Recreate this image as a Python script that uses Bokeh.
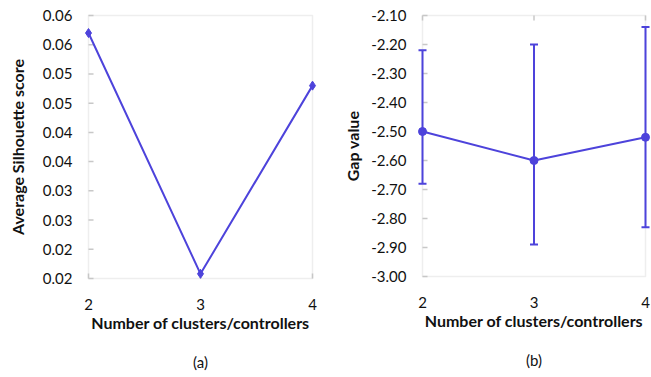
import math
from bokeh.plotting import figure
from bokeh.models import FixedTicker, LinearAxis, Range1d, Whisker, ColumnDataSource, TeeHead, BoxAnnotation
from bokeh.layouts import row
from bokeh.embed import file_html
from bokeh.resources import INLINE

# ---- data ----
clusters = [2, 3, 4]
silhouette = [0.057, 0.0158, 0.048]
sil_ticks = [0.015, 0.020, 0.025, 0.030, 0.035, 0.040, 0.045, 0.050, 0.055, 0.060]
sil_tick_labels = ["0.02", "0.02", "0.03", "0.03", "0.04", "0.04", "0.05", "0.05", "0.06", "0.06"]

gap = [-2.50, -2.60, -2.52]
gap_upper = [-2.22, -2.20, -2.14]
gap_lower = [-2.68, -2.89, -2.83]
gap_ticks = [-3.0, -2.9, -2.8, -2.7, -2.6, -2.5, -2.4, -2.3, -2.2, -2.1]
gap_tick_labels = ["-3.00", "-2.90", "-2.80", "-2.70", "-2.60", "-2.50", "-2.40", "-2.30", "-2.20", "-2.10"]

x_label = "Number of clusters/controllers"
y_label_a = "Average Silhouette score"
y_label_b = "Gap value"

# ---- style ----
FONT = "Lato"
LINE = "#4D43DB"
GRAY = "#C8C8C8"
TXT = "#111111"
FIG_H = 375
PAD = 6


def make_fig(box_w, box_h, border_l, border_r, border_t, yticks):
    """Frame a few px larger than the data box so marks on the box edge are not clipped."""
    x0, x1 = clusters[0], clusters[-1]
    y0, y1 = yticks[0], yticks[-1]
    sx = (x1 - x0) / box_w
    sy = (y1 - y0) / box_h
    fw = box_w + 2 * PAD
    fh = box_h + 2 * PAD
    p = figure(output_backend="svg", toolbar_location=None,
               frame_width=fw, frame_height=fh,
               min_border_left=border_l, min_border_right=border_r,
               min_border_top=border_t, min_border_bottom=FIG_H - border_t - fh,
               x_range=Range1d(x0 - PAD * sx, x1 + PAD * sx),
               y_range=Range1d(y0 - PAD * sy, y1 + PAD * sy))
    p.grid.visible = False
    p.outline_line_color = None
    p.add_layout(BoxAnnotation(left=x0, right=x1, bottom=y0, top=y1,
                               fill_color=None, line_color=GRAY, line_width=1.5,
                               level="underlay"))
    # inward tick marks on the box's left edge
    p.ray(x=[x0] * len(yticks), y=yticks, length=5, length_units="screen", angle=0,
          line_color=GRAY, line_width=1.5, level="underlay")
    return p


def style(p, yticks, ylabels, ylabel):
    p.xaxis.ticker = FixedTicker(ticks=clusters)
    p.yaxis.ticker = FixedTicker(ticks=yticks)
    p.yaxis.major_label_overrides = {t: l for t, l in zip(yticks, ylabels)}
    for ax in (p.xaxis[0], p.yaxis[0]):
        ax.axis_line_color = None
        ax.major_tick_line_color = None
        ax.minor_tick_line_color = None
        ax.major_tick_in = 0
        ax.major_tick_out = 0
        ax.major_label_text_font = FONT
        ax.major_label_text_font_size = "15px"
        ax.major_label_text_color = TXT
        ax.axis_label_text_font = FONT
        ax.axis_label_text_font_size = "16px"
        ax.axis_label_text_font_style = "bold"
        ax.axis_label_text_color = TXT
    p.xaxis.axis_label = x_label
    p.xaxis.major_label_standoff = 14
    p.xaxis.axis_label_standoff = 0
    p.yaxis.axis_label = ylabel
    p.yaxis.major_label_standoff = 16 - PAD


def caption(p, text, standoff):
    ax = LinearAxis(ticker=FixedTicker(ticks=[]), axis_label=text,
                    axis_line_color=None, major_tick_line_color=None,
                    minor_tick_line_color=None,
                    axis_label_text_font=FONT, axis_label_text_font_size="15px",
                    axis_label_text_font_style="normal", axis_label_text_color=TXT,
                    axis_label_standoff=standoff)
    p.add_layout(ax, "below")


# ---- (a) ----
pa = make_fig(box_w=224, box_h=263, border_l=82, border_r=22, border_t=9, yticks=sil_ticks)
style(pa, sil_ticks, sil_tick_labels, y_label_a)
pa.yaxis.axis_label_standoff = 13
pa.ray(x=clusters, y=[sil_ticks[0]] * len(clusters), length=5, length_units="screen",
       angle=math.pi / 2, line_color=GRAY, line_width=1.5, level="underlay")
pa.line(clusters, silhouette, line_color=LINE, line_width=2, level="overlay")
pa.scatter(clusters, silhouette, marker="diamond", size=9, fill_color=LINE, line_color=LINE,
           level="overlay")
caption(pa, "(a)", 18)

# ---- (b) ----
pb = make_fig(box_w=223, box_h=261, border_l=70, border_r=6, border_t=9, yticks=gap_ticks)
style(pb, gap_ticks, gap_tick_labels, y_label_b)
pb.yaxis.axis_label_standoff = 6
pb.ray(x=clusters, y=[gap_ticks[-1]] * len(clusters), length=5, length_units="screen",
       angle=-math.pi / 2, line_color=GRAY, line_width=1.5, level="underlay")

src = ColumnDataSource(dict(x=clusters, y=gap, upper=gap_upper, lower=gap_lower))
wh = Whisker(source=src, base="x", upper="upper", lower="lower",
             line_color=LINE, line_width=2, level="overlay",
             upper_head=TeeHead(size=8, line_color=LINE, line_width=2),
             lower_head=TeeHead(size=8, line_color=LINE, line_width=2))
pb.add_layout(wh)
pb.line("x", "y", source=src, line_color=LINE, line_width=2, level="overlay")
pb.scatter("x", "y", source=src, marker="circle", size=8, fill_color=LINE, line_color=LINE,
           level="overlay")
caption(pb, "(b)", 18)

layout = row(pa, pb)
open("out.html", "w").write(file_html(layout, INLINE))
